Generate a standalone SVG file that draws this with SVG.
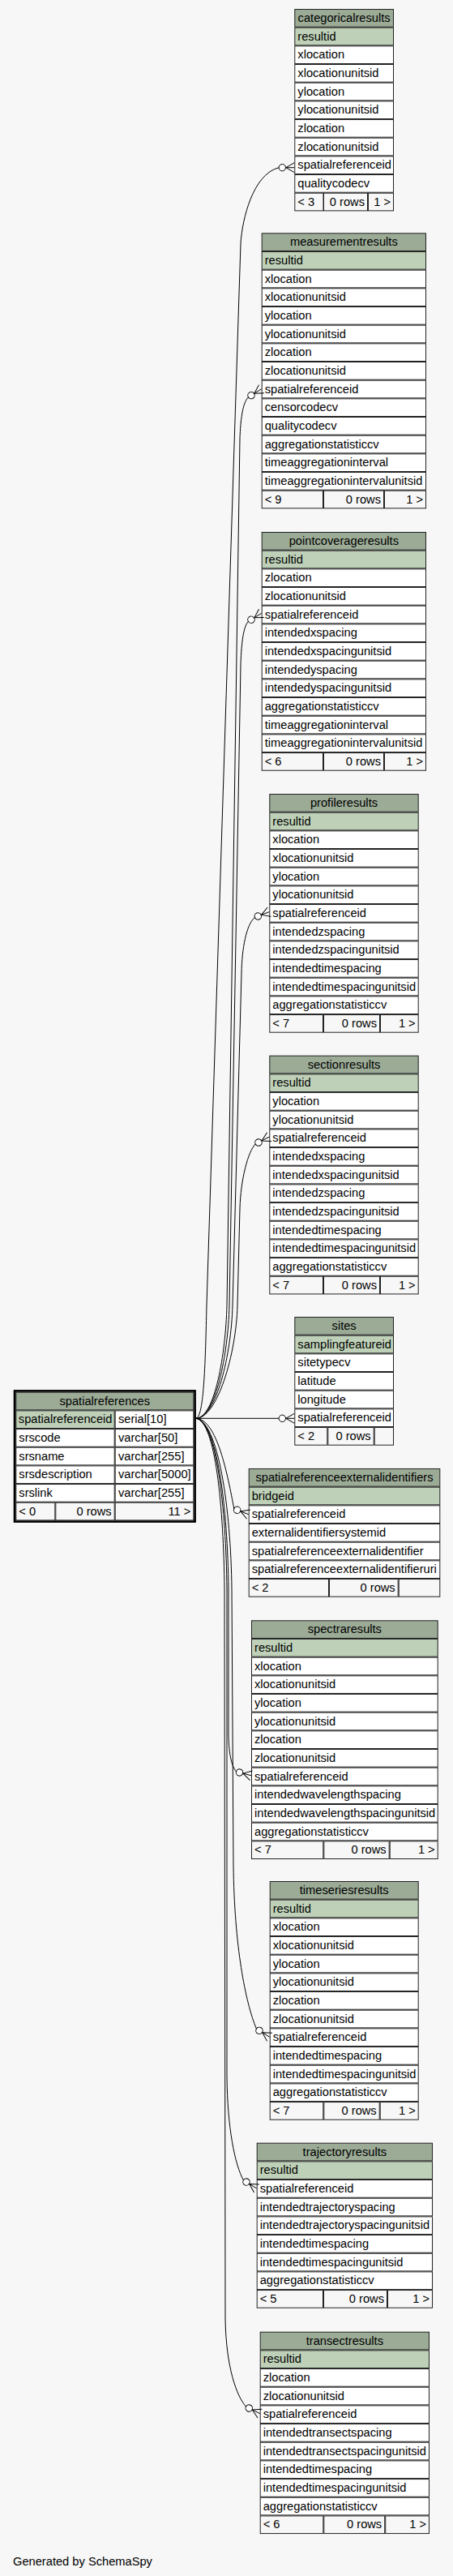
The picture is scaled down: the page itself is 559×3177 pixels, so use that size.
<svg xmlns="http://www.w3.org/2000/svg" width="559" height="3177" viewBox="0 0 559 3177">
<defs>
<style>
.t{font-family:"Liberation Sans",Arial,Helvetica,sans-serif;font-size:14.67px;fill:#000}
.m{text-anchor:middle}
.e{text-anchor:end}
.c{stroke:#222;stroke-width:1}
.hd{fill:#9bab96}
.pk{fill:#bed1b8}
.rw{fill:#fff}
.ft{fill:#f7f7f7}
.ed{fill:none;stroke:#000;stroke-width:1;marker-end:url(#cf)}
</style>
<marker id="cf" markerUnits="userSpaceOnUse" orient="auto" refX="0" refY="0" markerWidth="24" markerHeight="16" viewBox="-21 -8 24 16" overflow="visible">
<circle cx="-15" cy="0" r="4.2" fill="#fff" stroke="#000" stroke-width="1"/>
<path d="M-10.5,0L0,-6M-10.5,0L0,6" fill="none" stroke="#000" stroke-width="1"/>
</marker>
</defs>
<rect x="0" y="0" width="559" height="3177" fill="#f7f7f7"/>

<g id="categoricalresults" transform="translate(363.3,11)">
<rect class="c hd" x="0.5" y="0.5" width="121.7" height="21.67"/>
<rect class="c pk" x="0.5" y="23.17" width="121.7" height="21.67"/>
<rect class="c rw" x="0.5" y="45.84" width="121.7" height="21.67"/>
<rect class="c rw" x="0.5" y="68.51" width="121.7" height="21.67"/>
<rect class="c rw" x="0.5" y="91.18" width="121.7" height="21.67"/>
<rect class="c rw" x="0.5" y="113.85" width="121.7" height="21.67"/>
<rect class="c rw" x="0.5" y="136.52" width="121.7" height="21.67"/>
<rect class="c rw" x="0.5" y="159.19" width="121.7" height="21.67"/>
<rect class="c rw" x="0.5" y="181.86" width="121.7" height="21.67"/>
<rect class="c rw" x="0.5" y="204.53" width="121.7" height="21.67"/>
<rect class="c ft" x="0.5" y="227.2" width="35.2" height="21.67"/>
<rect class="c ft" x="36.2" y="227.2" width="54" height="21.67"/>
<rect class="c ft" x="91.2" y="227.2" width="31" height="21.67"/>
<text class="t m" x="61.35" y="16">categoricalresults</text>
<text class="t" x="4" y="38.67">resultid</text>
<text class="t" x="4" y="61.34">xlocation</text>
<text class="t" x="4" y="84.01">xlocationunitsid</text>
<text class="t" x="4" y="106.68">ylocation</text>
<text class="t" x="4" y="129.35">ylocationunitsid</text>
<text class="t" x="4" y="152.02">zlocation</text>
<text class="t" x="4" y="174.69">zlocationunitsid</text>
<text class="t" x="4" y="197.36">spatialreferenceid</text>
<text class="t" x="4" y="220.03">qualitycodecv</text>
<text class="t" x="4" y="242.7">&lt; 3</text>
<text class="t e" x="86.7" y="242.7">0 rows</text>
<text class="t e" x="118.7" y="242.7">1 &gt;</text>
</g>

<g id="measurementresults" transform="translate(322.7,287.3)">
<rect class="c hd" x="0.5" y="0.5" width="202.3" height="21.67"/>
<rect class="c pk" x="0.5" y="23.17" width="202.3" height="21.67"/>
<rect class="c rw" x="0.5" y="45.84" width="202.3" height="21.67"/>
<rect class="c rw" x="0.5" y="68.51" width="202.3" height="21.67"/>
<rect class="c rw" x="0.5" y="91.18" width="202.3" height="21.67"/>
<rect class="c rw" x="0.5" y="113.85" width="202.3" height="21.67"/>
<rect class="c rw" x="0.5" y="136.52" width="202.3" height="21.67"/>
<rect class="c rw" x="0.5" y="159.19" width="202.3" height="21.67"/>
<rect class="c rw" x="0.5" y="181.86" width="202.3" height="21.67"/>
<rect class="c rw" x="0.5" y="204.53" width="202.3" height="21.67"/>
<rect class="c rw" x="0.5" y="227.2" width="202.3" height="21.67"/>
<rect class="c rw" x="0.5" y="249.87" width="202.3" height="21.67"/>
<rect class="c rw" x="0.5" y="272.54" width="202.3" height="21.67"/>
<rect class="c rw" x="0.5" y="295.21" width="202.3" height="21.67"/>
<rect class="c ft" x="0.5" y="317.88" width="75.3" height="21.67"/>
<rect class="c ft" x="76.8" y="317.88" width="74" height="21.67"/>
<rect class="c ft" x="151.8" y="317.88" width="51" height="21.67"/>
<text class="t m" x="101.65" y="16">measurementresults</text>
<text class="t" x="4" y="38.67">resultid</text>
<text class="t" x="4" y="61.34">xlocation</text>
<text class="t" x="4" y="84.01">xlocationunitsid</text>
<text class="t" x="4" y="106.68">ylocation</text>
<text class="t" x="4" y="129.35">ylocationunitsid</text>
<text class="t" x="4" y="152.02">zlocation</text>
<text class="t" x="4" y="174.69">zlocationunitsid</text>
<text class="t" x="4" y="197.36">spatialreferenceid</text>
<text class="t" x="4" y="220.03">censorcodecv</text>
<text class="t" x="4" y="242.7">qualitycodecv</text>
<text class="t" x="4" y="265.37">aggregationstatisticcv</text>
<text class="t" x="4" y="288.04">timeaggregationinterval</text>
<text class="t" x="4" y="310.71">timeaggregationintervalunitsid</text>
<text class="t" x="4" y="333.38">&lt; 9</text>
<text class="t e" x="147.3" y="333.38">0 rows</text>
<text class="t e" x="199.3" y="333.38">1 &gt;</text>
</g>

<g id="pointcoverageresults" transform="translate(322.7,656)">
<rect class="c hd" x="0.5" y="0.5" width="202.3" height="21.67"/>
<rect class="c pk" x="0.5" y="23.17" width="202.3" height="21.67"/>
<rect class="c rw" x="0.5" y="45.84" width="202.3" height="21.67"/>
<rect class="c rw" x="0.5" y="68.51" width="202.3" height="21.67"/>
<rect class="c rw" x="0.5" y="91.18" width="202.3" height="21.67"/>
<rect class="c rw" x="0.5" y="113.85" width="202.3" height="21.67"/>
<rect class="c rw" x="0.5" y="136.52" width="202.3" height="21.67"/>
<rect class="c rw" x="0.5" y="159.19" width="202.3" height="21.67"/>
<rect class="c rw" x="0.5" y="181.86" width="202.3" height="21.67"/>
<rect class="c rw" x="0.5" y="204.53" width="202.3" height="21.67"/>
<rect class="c rw" x="0.5" y="227.2" width="202.3" height="21.67"/>
<rect class="c rw" x="0.5" y="249.87" width="202.3" height="21.67"/>
<rect class="c ft" x="0.5" y="272.54" width="75.3" height="21.67"/>
<rect class="c ft" x="76.8" y="272.54" width="74" height="21.67"/>
<rect class="c ft" x="151.8" y="272.54" width="51" height="21.67"/>
<text class="t m" x="101.65" y="16">pointcoverageresults</text>
<text class="t" x="4" y="38.67">resultid</text>
<text class="t" x="4" y="61.34">zlocation</text>
<text class="t" x="4" y="84.01">zlocationunitsid</text>
<text class="t" x="4" y="106.68">spatialreferenceid</text>
<text class="t" x="4" y="129.35">intendedxspacing</text>
<text class="t" x="4" y="152.02">intendedxspacingunitsid</text>
<text class="t" x="4" y="174.69">intendedyspacing</text>
<text class="t" x="4" y="197.36">intendedyspacingunitsid</text>
<text class="t" x="4" y="220.03">aggregationstatisticcv</text>
<text class="t" x="4" y="242.7">timeaggregationinterval</text>
<text class="t" x="4" y="265.37">timeaggregationintervalunitsid</text>
<text class="t" x="4" y="288.04">&lt; 6</text>
<text class="t e" x="147.3" y="288.04">0 rows</text>
<text class="t e" x="199.3" y="288.04">1 &gt;</text>
</g>

<g id="profileresults" transform="translate(332.3,979)">
<rect class="c hd" x="0.5" y="0.5" width="183.4" height="21.67"/>
<rect class="c pk" x="0.5" y="23.17" width="183.4" height="21.67"/>
<rect class="c rw" x="0.5" y="45.84" width="183.4" height="21.67"/>
<rect class="c rw" x="0.5" y="68.51" width="183.4" height="21.67"/>
<rect class="c rw" x="0.5" y="91.18" width="183.4" height="21.67"/>
<rect class="c rw" x="0.5" y="113.85" width="183.4" height="21.67"/>
<rect class="c rw" x="0.5" y="136.52" width="183.4" height="21.67"/>
<rect class="c rw" x="0.5" y="159.19" width="183.4" height="21.67"/>
<rect class="c rw" x="0.5" y="181.86" width="183.4" height="21.67"/>
<rect class="c rw" x="0.5" y="204.53" width="183.4" height="21.67"/>
<rect class="c rw" x="0.5" y="227.2" width="183.4" height="21.67"/>
<rect class="c rw" x="0.5" y="249.87" width="183.4" height="21.67"/>
<rect class="c ft" x="0.5" y="272.54" width="65.7" height="21.67"/>
<rect class="c ft" x="67.2" y="272.54" width="69" height="21.67"/>
<rect class="c ft" x="137.2" y="272.54" width="46.7" height="21.67"/>
<text class="t m" x="92.2" y="16">profileresults</text>
<text class="t" x="4" y="38.67">resultid</text>
<text class="t" x="4" y="61.34">xlocation</text>
<text class="t" x="4" y="84.01">xlocationunitsid</text>
<text class="t" x="4" y="106.68">ylocation</text>
<text class="t" x="4" y="129.35">ylocationunitsid</text>
<text class="t" x="4" y="152.02">spatialreferenceid</text>
<text class="t" x="4" y="174.69">intendedzspacing</text>
<text class="t" x="4" y="197.36">intendedzspacingunitsid</text>
<text class="t" x="4" y="220.03">intendedtimespacing</text>
<text class="t" x="4" y="242.7">intendedtimespacingunitsid</text>
<text class="t" x="4" y="265.37">aggregationstatisticcv</text>
<text class="t" x="4" y="288.04">&lt; 7</text>
<text class="t e" x="132.7" y="288.04">0 rows</text>
<text class="t e" x="180.4" y="288.04">1 &gt;</text>
</g>

<g id="sectionresults" transform="translate(332.3,1301.7)">
<rect class="c hd" x="0.5" y="0.5" width="183.4" height="21.67"/>
<rect class="c pk" x="0.5" y="23.17" width="183.4" height="21.67"/>
<rect class="c rw" x="0.5" y="45.84" width="183.4" height="21.67"/>
<rect class="c rw" x="0.5" y="68.51" width="183.4" height="21.67"/>
<rect class="c rw" x="0.5" y="91.18" width="183.4" height="21.67"/>
<rect class="c rw" x="0.5" y="113.85" width="183.4" height="21.67"/>
<rect class="c rw" x="0.5" y="136.52" width="183.4" height="21.67"/>
<rect class="c rw" x="0.5" y="159.19" width="183.4" height="21.67"/>
<rect class="c rw" x="0.5" y="181.86" width="183.4" height="21.67"/>
<rect class="c rw" x="0.5" y="204.53" width="183.4" height="21.67"/>
<rect class="c rw" x="0.5" y="227.2" width="183.4" height="21.67"/>
<rect class="c rw" x="0.5" y="249.87" width="183.4" height="21.67"/>
<rect class="c ft" x="0.5" y="272.54" width="65.7" height="21.67"/>
<rect class="c ft" x="67.2" y="272.54" width="69" height="21.67"/>
<rect class="c ft" x="137.2" y="272.54" width="46.7" height="21.67"/>
<text class="t m" x="92.2" y="16">sectionresults</text>
<text class="t" x="4" y="38.67">resultid</text>
<text class="t" x="4" y="61.34">ylocation</text>
<text class="t" x="4" y="84.01">ylocationunitsid</text>
<text class="t" x="4" y="106.68">spatialreferenceid</text>
<text class="t" x="4" y="129.35">intendedxspacing</text>
<text class="t" x="4" y="152.02">intendedxspacingunitsid</text>
<text class="t" x="4" y="174.69">intendedzspacing</text>
<text class="t" x="4" y="197.36">intendedzspacingunitsid</text>
<text class="t" x="4" y="220.03">intendedtimespacing</text>
<text class="t" x="4" y="242.7">intendedtimespacingunitsid</text>
<text class="t" x="4" y="265.37">aggregationstatisticcv</text>
<text class="t" x="4" y="288.04">&lt; 7</text>
<text class="t e" x="132.7" y="288.04">0 rows</text>
<text class="t e" x="180.4" y="288.04">1 &gt;</text>
</g>

<g id="sites" transform="translate(363.3,1624)">
<rect class="c hd" x="0.5" y="0.5" width="121.7" height="21.67"/>
<rect class="c pk" x="0.5" y="23.17" width="121.7" height="21.67"/>
<rect class="c rw" x="0.5" y="45.84" width="121.7" height="21.67"/>
<rect class="c rw" x="0.5" y="68.51" width="121.7" height="21.67"/>
<rect class="c rw" x="0.5" y="91.18" width="121.7" height="21.67"/>
<rect class="c rw" x="0.5" y="113.85" width="121.7" height="21.67"/>
<rect class="c ft" x="0.5" y="136.52" width="40" height="21.67"/>
<rect class="c ft" x="41.5" y="136.52" width="56.4" height="21.67"/>
<rect class="c ft" x="98.9" y="136.52" width="23.3" height="21.67"/>
<text class="t m" x="61.35" y="16">sites</text>
<text class="t" x="4" y="38.67">samplingfeatureid</text>
<text class="t" x="4" y="61.34">sitetypecv</text>
<text class="t" x="4" y="84.01">latitude</text>
<text class="t" x="4" y="106.68">longitude</text>
<text class="t" x="4" y="129.35">spatialreferenceid</text>
<text class="t" x="4" y="152.02">&lt; 2</text>
<text class="t e" x="94.4" y="152.02">0 rows</text>
</g>

<g id="spatialreferences" transform="translate(19.3,1716.7)">
<rect class="c hd" x="0.5" y="0.5" width="219" height="21.67"/>
<rect class="c pk" x="0.5" y="23.17" width="121.4" height="21.67"/>
<rect class="c rw" x="122.9" y="23.17" width="96.6" height="21.67"/>
<rect class="c rw" x="0.5" y="45.84" width="121.4" height="21.67"/>
<rect class="c rw" x="122.9" y="45.84" width="96.6" height="21.67"/>
<rect class="c rw" x="0.5" y="68.51" width="121.4" height="21.67"/>
<rect class="c rw" x="122.9" y="68.51" width="96.6" height="21.67"/>
<rect class="c rw" x="0.5" y="91.18" width="121.4" height="21.67"/>
<rect class="c rw" x="122.9" y="91.18" width="96.6" height="21.67"/>
<rect class="c rw" x="0.5" y="113.85" width="121.4" height="21.67"/>
<rect class="c rw" x="122.9" y="113.85" width="96.6" height="21.67"/>
<rect class="c ft" x="0.5" y="136.52" width="48" height="21.67"/>
<rect class="c ft" x="49.5" y="136.52" width="72.4" height="21.67"/>
<rect class="c ft" x="122.9" y="136.52" width="96.6" height="21.67"/>
<rect x="-1.3" y="-1.3" width="222.6" height="161.2" fill="none" stroke="#000" stroke-width="2.6"/>
<text class="t m" x="110" y="16">spatialreferences</text>
<text class="t" x="3.5" y="38.67">spatialreferenceid</text>
<text class="t" x="126.7" y="38.67">serial[10]</text>
<text class="t" x="4" y="61.34">srscode</text>
<text class="t" x="126.7" y="61.34">varchar[50]</text>
<text class="t" x="4" y="84.01">srsname</text>
<text class="t" x="126.7" y="84.01">varchar[255]</text>
<text class="t" x="4" y="106.68">srsdescription</text>
<text class="t" x="126.7" y="106.68">varchar[5000]</text>
<text class="t" x="4" y="129.35">srslink</text>
<text class="t" x="126.7" y="129.35">varchar[255]</text>
<text class="t" x="4" y="152.02">&lt; 0</text>
<text class="t e" x="118.4" y="152.02">0 rows</text>
<text class="t e" x="216" y="152.02">11 &gt;</text>
</g>

<g id="spatialreferenceexternalidentifiers" transform="translate(306.7,1811)">
<rect class="c hd" x="0.5" y="0.5" width="235.6" height="21.67"/>
<rect class="c pk" x="0.5" y="23.17" width="235.6" height="21.67"/>
<rect class="c rw" x="0.5" y="45.84" width="235.6" height="21.67"/>
<rect class="c rw" x="0.5" y="68.51" width="235.6" height="21.67"/>
<rect class="c rw" x="0.5" y="91.18" width="235.6" height="21.67"/>
<rect class="c rw" x="0.5" y="113.85" width="235.6" height="21.67"/>
<rect class="c ft" x="0.5" y="136.52" width="98.3" height="21.67"/>
<rect class="c ft" x="99.8" y="136.52" width="84.7" height="21.67"/>
<rect class="c ft" x="185.5" y="136.52" width="50.6" height="21.67"/>
<text class="t m" x="118.3" y="16">spatialreferenceexternalidentifiers</text>
<text class="t" x="4" y="38.67">bridgeid</text>
<text class="t" x="4" y="61.34">spatialreferenceid</text>
<text class="t" x="4" y="84.01">externalidentifiersystemid</text>
<text class="t" x="4" y="106.68">spatialreferenceexternalidentifier</text>
<text class="t" x="4" y="129.35">spatialreferenceexternalidentifieruri</text>
<text class="t" x="4" y="152.02">&lt; 2</text>
<text class="t e" x="181" y="152.02">0 rows</text>
</g>

<g id="spectraresults" transform="translate(310,1998.3)">
<rect class="c hd" x="0.5" y="0.5" width="229.7" height="21.67"/>
<rect class="c pk" x="0.5" y="23.17" width="229.7" height="21.67"/>
<rect class="c rw" x="0.5" y="45.84" width="229.7" height="21.67"/>
<rect class="c rw" x="0.5" y="68.51" width="229.7" height="21.67"/>
<rect class="c rw" x="0.5" y="91.18" width="229.7" height="21.67"/>
<rect class="c rw" x="0.5" y="113.85" width="229.7" height="21.67"/>
<rect class="c rw" x="0.5" y="136.52" width="229.7" height="21.67"/>
<rect class="c rw" x="0.5" y="159.19" width="229.7" height="21.67"/>
<rect class="c rw" x="0.5" y="181.86" width="229.7" height="21.67"/>
<rect class="c rw" x="0.5" y="204.53" width="229.7" height="21.67"/>
<rect class="c rw" x="0.5" y="227.2" width="229.7" height="21.67"/>
<rect class="c rw" x="0.5" y="249.87" width="229.7" height="21.67"/>
<rect class="c ft" x="0.5" y="272.54" width="88.3" height="21.67"/>
<rect class="c ft" x="89.8" y="272.54" width="80.4" height="21.67"/>
<rect class="c ft" x="171.2" y="272.54" width="59" height="21.67"/>
<text class="t m" x="115.35" y="16">spectraresults</text>
<text class="t" x="4" y="38.67">resultid</text>
<text class="t" x="4" y="61.34">xlocation</text>
<text class="t" x="4" y="84.01">xlocationunitsid</text>
<text class="t" x="4" y="106.68">ylocation</text>
<text class="t" x="4" y="129.35">ylocationunitsid</text>
<text class="t" x="4" y="152.02">zlocation</text>
<text class="t" x="4" y="174.69">zlocationunitsid</text>
<text class="t" x="4" y="197.36">spatialreferenceid</text>
<text class="t" x="4" y="220.03">intendedwavelengthspacing</text>
<text class="t" x="4" y="242.7">intendedwavelengthspacingunitsid</text>
<text class="t" x="4" y="265.37">aggregationstatisticcv</text>
<text class="t" x="4" y="288.04">&lt; 7</text>
<text class="t e" x="166.7" y="288.04">0 rows</text>
<text class="t e" x="226.7" y="288.04">1 &gt;</text>
</g>

<g id="timeseriesresults" transform="translate(332.7,2320)">
<rect class="c hd" x="0.5" y="0.5" width="183" height="21.67"/>
<rect class="c pk" x="0.5" y="23.17" width="183" height="21.67"/>
<rect class="c rw" x="0.5" y="45.84" width="183" height="21.67"/>
<rect class="c rw" x="0.5" y="68.51" width="183" height="21.67"/>
<rect class="c rw" x="0.5" y="91.18" width="183" height="21.67"/>
<rect class="c rw" x="0.5" y="113.85" width="183" height="21.67"/>
<rect class="c rw" x="0.5" y="136.52" width="183" height="21.67"/>
<rect class="c rw" x="0.5" y="159.19" width="183" height="21.67"/>
<rect class="c rw" x="0.5" y="181.86" width="183" height="21.67"/>
<rect class="c rw" x="0.5" y="204.53" width="183" height="21.67"/>
<rect class="c rw" x="0.5" y="227.2" width="183" height="21.67"/>
<rect class="c rw" x="0.5" y="249.87" width="183" height="21.67"/>
<rect class="c ft" x="0.5" y="272.54" width="65.6" height="21.67"/>
<rect class="c ft" x="67.1" y="272.54" width="68.4" height="21.67"/>
<rect class="c ft" x="136.5" y="272.54" width="47" height="21.67"/>
<text class="t m" x="92" y="16">timeseriesresults</text>
<text class="t" x="4" y="38.67">resultid</text>
<text class="t" x="4" y="61.34">xlocation</text>
<text class="t" x="4" y="84.01">xlocationunitsid</text>
<text class="t" x="4" y="106.68">ylocation</text>
<text class="t" x="4" y="129.35">ylocationunitsid</text>
<text class="t" x="4" y="152.02">zlocation</text>
<text class="t" x="4" y="174.69">zlocationunitsid</text>
<text class="t" x="4" y="197.36">spatialreferenceid</text>
<text class="t" x="4" y="220.03">intendedtimespacing</text>
<text class="t" x="4" y="242.7">intendedtimespacingunitsid</text>
<text class="t" x="4" y="265.37">aggregationstatisticcv</text>
<text class="t" x="4" y="288.04">&lt; 7</text>
<text class="t e" x="132" y="288.04">0 rows</text>
<text class="t e" x="180" y="288.04">1 &gt;</text>
</g>

<g id="trajectoryresults" transform="translate(316.7,2642.7)">
<rect class="c hd" x="0.5" y="0.5" width="216.3" height="21.67"/>
<rect class="c pk" x="0.5" y="23.17" width="216.3" height="21.67"/>
<rect class="c rw" x="0.5" y="45.84" width="216.3" height="21.67"/>
<rect class="c rw" x="0.5" y="68.51" width="216.3" height="21.67"/>
<rect class="c rw" x="0.5" y="91.18" width="216.3" height="21.67"/>
<rect class="c rw" x="0.5" y="113.85" width="216.3" height="21.67"/>
<rect class="c rw" x="0.5" y="136.52" width="216.3" height="21.67"/>
<rect class="c rw" x="0.5" y="159.19" width="216.3" height="21.67"/>
<rect class="c ft" x="0.5" y="181.86" width="81.3" height="21.67"/>
<rect class="c ft" x="82.8" y="181.86" width="78" height="21.67"/>
<rect class="c ft" x="161.8" y="181.86" width="55" height="21.67"/>
<text class="t m" x="108.65" y="16">trajectoryresults</text>
<text class="t" x="4" y="38.67">resultid</text>
<text class="t" x="4" y="61.34">spatialreferenceid</text>
<text class="t" x="4" y="84.01">intendedtrajectoryspacing</text>
<text class="t" x="4" y="106.68">intendedtrajectoryspacingunitsid</text>
<text class="t" x="4" y="129.35">intendedtimespacing</text>
<text class="t" x="4" y="152.02">intendedtimespacingunitsid</text>
<text class="t" x="4" y="174.69">aggregationstatisticcv</text>
<text class="t" x="4" y="197.36">&lt; 5</text>
<text class="t e" x="157.3" y="197.36">0 rows</text>
<text class="t e" x="213.3" y="197.36">1 &gt;</text>
</g>

<g id="transectresults" transform="translate(320.7,2875.7)">
<rect class="c hd" x="0.5" y="0.5" width="208.3" height="21.67"/>
<rect class="c pk" x="0.5" y="23.17" width="208.3" height="21.67"/>
<rect class="c rw" x="0.5" y="45.84" width="208.3" height="21.67"/>
<rect class="c rw" x="0.5" y="68.51" width="208.3" height="21.67"/>
<rect class="c rw" x="0.5" y="91.18" width="208.3" height="21.67"/>
<rect class="c rw" x="0.5" y="113.85" width="208.3" height="21.67"/>
<rect class="c rw" x="0.5" y="136.52" width="208.3" height="21.67"/>
<rect class="c rw" x="0.5" y="159.19" width="208.3" height="21.67"/>
<rect class="c rw" x="0.5" y="181.86" width="208.3" height="21.67"/>
<rect class="c rw" x="0.5" y="204.53" width="208.3" height="21.67"/>
<rect class="c ft" x="0.5" y="227.2" width="77.6" height="21.67"/>
<rect class="c ft" x="79.1" y="227.2" width="74.9" height="21.67"/>
<rect class="c ft" x="155" y="227.2" width="53.8" height="21.67"/>
<text class="t m" x="104.65" y="16">transectresults</text>
<text class="t" x="4" y="38.67">resultid</text>
<text class="t" x="4" y="61.34">zlocation</text>
<text class="t" x="4" y="84.01">zlocationunitsid</text>
<text class="t" x="4" y="106.68">spatialreferenceid</text>
<text class="t" x="4" y="129.35">intendedtransectspacing</text>
<text class="t" x="4" y="152.02">intendedtransectspacingunitsid</text>
<text class="t" x="4" y="174.69">intendedtimespacing</text>
<text class="t" x="4" y="197.36">intendedtimespacingunitsid</text>
<text class="t" x="4" y="220.03">aggregationstatisticcv</text>
<text class="t" x="4" y="242.7">&lt; 6</text>
<text class="t e" x="150.5" y="242.7">0 rows</text>
<text class="t e" x="205.3" y="242.7">1 &gt;</text>
</g>

<g id="connectors">
<path class="ed" d="M241.7,1749.3 C252,1749.3 253.5,1675 255,1610 L297,300 C299,270 312,215 344.1,206.7 L363.3,206.7"/>
<path class="ed" d="M241.7,1749.3 C265,1749.3 278.5,1670 280,1610 L296,540 C296.8,520 299,497 306.4,489.9 L322.7,479.7"/>
<path class="ed" d="M241.7,1749.3 C266,1749.3 281.5,1670 283,1610 L297,820 C297.6,800 299.5,773 306.4,766.5 L322.7,756.3"/>
<path class="ed" d="M241.7,1749.3 C267,1749.3 285.5,1670 287,1610 L298,1200 C298.5,1170 304,1140 314.4,1131.5 L332.3,1124.6"/>
<path class="ed" d="M241.7,1749.3 C268,1749.3 291.5,1670 293,1610 L296,1490 C297,1455 306,1420 315.3,1410.9 L332.3,1402.1"/>
<path class="ed" d="M241.7,1749.3 L363.3,1749.3"/>
<path class="ed" d="M241.7,1749.3 C268,1750 281,1820 288.8,1860.8 L306.7,1867.7"/>
<path class="ed" d="M241.7,1749.3 C268,1752 281,1860 282,1960 L282,2140 C282.5,2165 286,2178 291.4,2184.9 L310,2189.8"/>
<path class="ed" d="M241.7,1749.3 C269,1752 285,1860 286,1960 L288,2300 C289,2400 303,2470 316.4,2502.1 L332.7,2512.3"/>
<path class="ed" d="M241.7,1749.3 C267,1752 279,1860 280,1960 L280,2560 C280.5,2625 290,2670 300.4,2688.8 L316.7,2699"/>
<path class="ed" d="M241.7,1749.3 C266,1752 276,1860 277,1960 L278,2860 C279,2920 292,2955 303.5,2968.1 L320.7,2976.7"/>
</g>

<text class="t" x="16" y="3164">Generated by SchemaSpy</text>
</svg>
